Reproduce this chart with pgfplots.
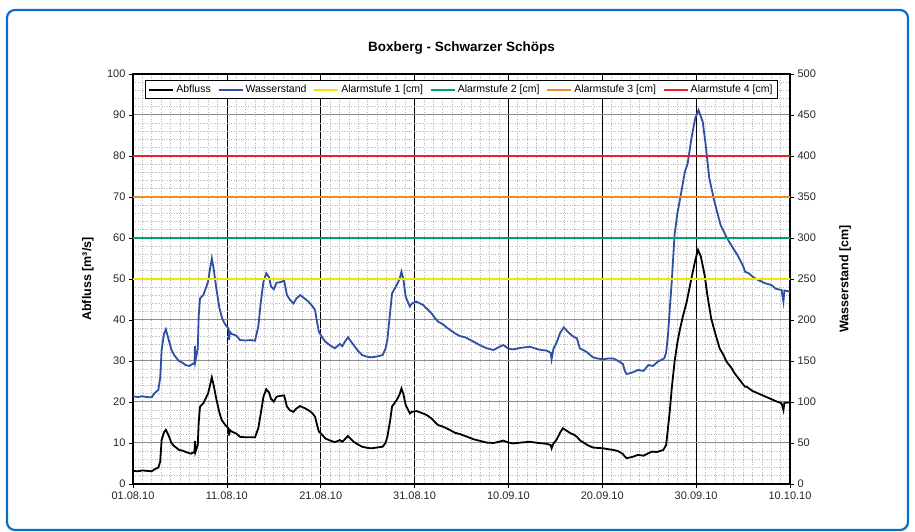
\documentclass[border=0pt]{standalone}
\usepackage{pgfplots}
\pgfplotsset{compat=1.18}
\usepackage{fontspec}
\setmainfont{Liberation Sans}
\definecolor{frameblue}{RGB}{10,110,200}
\definecolor{wblue}{RGB}{45,80,165}
\definecolor{alarmA}{RGB}{240,228,0}
\definecolor{alarmB}{RGB}{0,160,110}
\definecolor{alarmC}{RGB}{240,140,40}
\definecolor{alarmD}{RGB}{232,33,47}
\begin{document}
\begin{tikzpicture}[x=1pt,y=1pt]
\path[use as bounding box] (0,0) rectangle (915,532);
\draw[line width=2.2pt, color=frameblue, rounded corners=8pt] (7,2) rectangle (908,522);
\begin{axis}[
  at={(133pt,48pt)}, anchor=south west, scale only axis,
  width=657pt, height=410pt,
  xmin=0, xmax=70, ymin=0, ymax=100,
  xtick={0,10,...,70},
  xticklabels={01.08.10,11.08.10,21.08.10,31.08.10,10.09.10,20.09.10,30.09.10,10.10.10},
  ytick={0,10,...,100},
  minor x tick num=9, minor y tick num=4,
  grid=both,
  major x grid style={black, line width=0.6pt},
  minor x grid style={gray!55, dotted, line width=0.7pt},
  major y grid style={gray!90, line width=1pt},
  minor y grid style={gray!55, dotted, line width=0.7pt},
  axis line style={line width=1.5pt},
  tick align=outside, xtick pos=left, ytick pos=left,
  major tick length=4pt, minor tick length=0pt,
  tick style={black, line width=0.7pt},
  /pgf/number format/assume math mode=true,
  tick label style={font=\fontsize{11}{13}\selectfont, text=black!85},
  ylabel={Abfluss [m³/s]},
  ylabel style={font=\bfseries\fontsize{12.5}{14}\selectfont, at={(axis description cs:-0.0685,0.5)}, anchor=center, rotate=0},
  title={Boxberg - Schwarzer Schöps},
  title style={font=\bfseries\fontsize{13.5}{15}\selectfont, at={(axis description cs:0.5,1.049)}, anchor=center},
]
\addplot[black, line width=1.8pt] table {
0 3.2
0.5 3.1
1.0 3.3
1.5 3.2
2.0 3.1
2.3 3.6
2.7 4.0
2.9 5.5
3.05 10.7
3.3 12.6
3.5 13.2
3.8 11.8
4.1 10.0
4.4 9.2
4.65 8.8
4.9 8.3
5.36 8.1
5.6 7.8
5.9 7.6
6.2 7.4
6.4 7.7
6.55 7.6
6.6 10.5
6.65 7.8
6.9 9.5
7.0 15.0
7.14 18.9
7.5 19.7
8.0 22.1
8.2 24.0
8.4 26.0
8.6 24.0
8.9 20.5
9.2 17.5
9.45 15.6
9.8 14.5
10.16 13.6
10.25 11.8
10.3 13.2
10.5 12.8
11.0 12.3
11.4 11.5
12.0 11.4
12.5 11.4
13.0 11.4
13.35 13.6
13.6 17.0
13.9 21.3
14.2 23.1
14.5 22.3
14.7 20.8
15.0 20.1
15.3 21.3
15.7 21.5
16.1 21.6
16.4 18.9
16.7 18.0
17.1 17.6
17.4 18.4
17.8 19.0
18.2 18.6
18.7 18.0
19.1 17.3
19.4 16.4
19.6 14.5
19.8 12.8
20.2 11.9
20.5 11.1
21.0 10.6
21.5 10.2
22.05 10.7
22.3 10.3
22.6 11.0
22.9 11.7
23.5 10.3
24.0 9.6
24.4 9.1
25.0 8.8
25.4 8.7
26.0 8.9
26.6 9.1
26.9 10.0
27.1 11.5
27.4 15.5
27.6 18.9
28.1 20.5
28.4 21.8
28.6 23.3
28.8 22.0
29.05 19.3
29.5 17.2
29.7 17.6
30.2 17.8
30.9 17.2
31.3 16.8
31.8 16.0
32.2 15.0
32.5 14.4
33.0 14.0
33.4 13.6
33.9 13.0
34.3 12.5
34.8 12.2
35.4 11.7
36.3 10.9
37.0 10.5
37.7 10.1
38.4 10.0
39.0 10.3
39.45 10.6
40.0 10.1
40.5 9.9
41.3 10.1
42.3 10.3
43.2 10.0
44.1 9.8
44.5 9.5
44.6 8.7
44.8 9.9
45.1 10.7
45.5 12.5
45.8 13.6
46.2 13.0
46.6 12.4
47.0 12.0
47.3 11.5
47.6 10.7
48.0 10.1
48.5 9.4
49.0 8.9
49.5 8.8
50.1 8.7
50.6 8.5
51.2 8.3
51.7 8.0
52.2 7.3
52.4 6.7
52.6 6.3
53.2 6.6
53.8 7.1
54.4 6.9
55.0 7.6
55.3 7.9
55.8 7.8
56.5 8.3
56.8 9.5
57.0 13.6
57.2 18.0
57.4 23.3
57.7 29.8
58.0 34.5
58.3 38.0
58.6 41.0
59.0 44.5
59.5 50.2
59.9 54.5
60.2 57.1
60.5 55.5
60.9 51.0
61.2 46.0
61.6 40.4
62.0 37.0
62.5 33.1
62.9 31.5
63.25 29.8
63.7 28.5
64.1 27.0
64.7 25.2
65.2 23.7
65.4 23.7
66.0 22.7
66.6 22.1
67.3 21.4
68.0 20.7
68.5 20.2
69.1 19.7
69.3 18.0
69.4 19.8
70.0 19.9
};
\end{axis}
\begin{axis}[
  at={(133pt,48pt)}, anchor=south west, scale only axis,
  width=657pt, height=410pt,
  xmin=0, xmax=70, ymin=0, ymax=500,
  axis x line=none, axis y line*=right,
  ytick={0,50,...,500},
  axis line style={line width=1.5pt},
  tick align=outside,
  major tick length=4pt,
  tick style={black, line width=0.7pt},
  /pgf/number format/assume math mode=true,
  tick label style={font=\fontsize{11}{13}\selectfont, text=black!85},
  ylabel={Wasserstand [cm]},
  ylabel style={font=\bfseries\fontsize{12.5}{14}\selectfont, at={(axis description cs:1.084,0.5)}, anchor=center, rotate=0},
  legend style={at={(0.5,0.985)}, anchor=north, legend columns=6, draw=black, line width=0.9pt,
    font=\fontsize{10.5}{12.5}\selectfont, inner xsep=3pt, inner ysep=2.5pt,
    /tikz/every even column/.append style={column sep=5pt}},
  legend image code/.code={\draw[#1] (0pt,0pt) -- (24pt,0pt);},
]
\addlegendimage{black, line width=1.8pt}
\addlegendentry{Abfluss}
\addplot[wblue, line width=1.8pt] table {
0 107
0.5 106
1.0 107
1.5 106
2.0 105.7
2.3 111
2.7 114.6
2.9 130
3.05 163.4
3.3 183
3.5 188.6
3.8 176
4.1 163.4
4.4 157
4.65 153.3
4.9 150
5.36 147.2
5.6 145
6.0 143.9
6.4 147
6.55 146
6.6 168
6.65 150
6.9 165
7.0 205
7.14 226.4
7.5 230.5
8.0 246.7
8.2 262
8.4 275.2
8.6 262
8.9 236.6
9.2 215
9.5 202
9.8 195
10.16 189.8
10.25 175.6
10.3 186
10.5 183
11.0 181
11.4 175.6
12.0 175
12.5 175.5
13.0 174.8
13.35 191.9
13.6 220
13.9 246.7
14.2 257
14.5 252
14.7 241
15.0 237.4
15.3 245.5
15.7 246
16.1 248
16.4 230.5
16.7 225
17.1 220.3
17.4 226
17.8 230.5
18.2 227
18.7 222.3
19.1 217
19.4 212.2
19.6 198
19.8 185.7
20.2 178
20.5 173.5
21.0 169
21.5 165.5
22.05 170.7
22.3 168
22.6 174
22.9 178.9
23.5 169.5
24.0 162
24.4 157.3
25.0 155
25.4 154.5
26.0 155.5
26.6 157.3
26.9 165
27.1 175.6
27.4 210
27.6 232.5
28.1 242.7
28.4 250
28.6 258.9
28.8 250
29.05 228.5
29.5 216.3
29.7 220
30.2 222.3
30.9 218.3
31.3 214
31.8 208.2
32.2 202
32.5 198
33.0 195
33.4 191
33.9 187
34.3 183.7
34.8 180.5
35.4 178.9
36.3 173.5
37.0 169
37.7 165.5
38.4 163.4
39.0 167
39.45 169.5
40.0 165
40.5 164.2
41.3 166
42.3 167.4
43.2 164
44.1 162.6
44.5 160
44.6 152
44.8 165
45.1 171.6
45.5 184
45.9 191
46.3 186
46.7 181.7
47.0 179
47.3 177.7
47.6 165.5
48.3 161.3
49.0 154.5
49.5 153
50.1 152
50.6 153
51.2 153
51.7 150
52.2 146.3
52.4 138
52.6 134
53.2 136
53.8 139
54.4 138
54.9 145
55.4 144
55.9 149
56.6 153.3
56.8 160
57.0 181.7
57.2 215
57.4 246.7
57.7 303.7
58.0 330
58.3 348.4
58.8 380.9
59.1 391
59.5 421.6
59.9 446
60.25 456
60.7 441.8
61.0 415
61.4 372.8
61.95 344.3
62.6 315.9
63.3 299.6
63.8 290
64.4 279.3
65.0 266
65.2 258.9
65.6 257
66.1 252
66.6 248.8
67.3 245
68.0 242.7
68.5 238
69.1 236.6
69.3 222.3
69.4 236
70.0 234.5
};
\addlegendentry{Wasserstand}
\addplot[alarmA, line width=1.8pt] coordinates {(0,250) (70,250)};
\addlegendentry{Alarmstufe 1 [cm]}
\addplot[alarmB, line width=1.8pt] coordinates {(0,300) (70,300)};
\addlegendentry{Alarmstufe 2 [cm]}
\addplot[alarmC, line width=1.8pt] coordinates {(0,350) (70,350)};
\addlegendentry{Alarmstufe 3 [cm]}
\addplot[alarmD, line width=1.8pt] coordinates {(0,400) (70,400)};
\addlegendentry{Alarmstufe 4 [cm]}
\end{axis}
\end{tikzpicture}
\end{document}
